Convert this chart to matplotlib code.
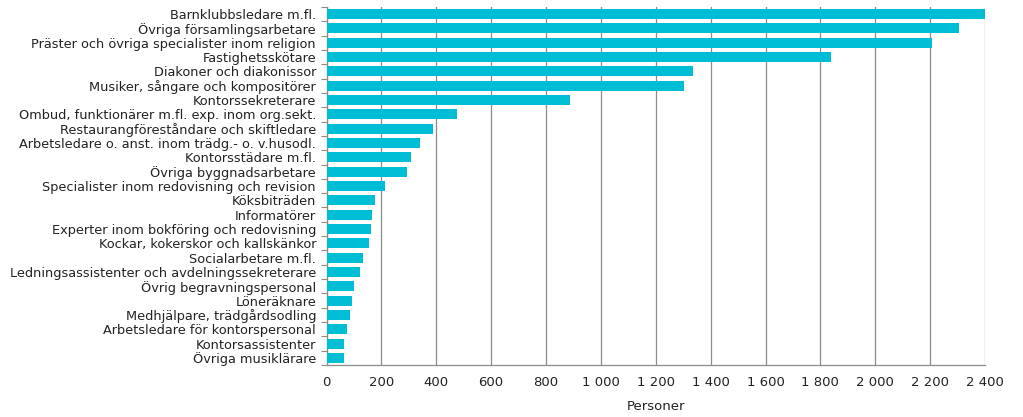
import numpy as np
import matplotlib.pyplot as plt
from matplotlib.ticker import FuncFormatter, FixedLocator

categories = [
    'Barnklubbsledare m.fl.',
    'Övriga församlingsarbetare',
    'Präster och övriga specialister inom religion',
    'Fastighetsskötare',
    'Diakoner och diakonissor',
    'Musiker, sångare och kompositörer',
    'Kontorssekreterare',
    'Ombud, funktionärer m.fl. exp. inom org.sekt.',
    'Restaurangföreståndare och skiftledare',
    'Arbetsledare o. anst. inom trädg.- o. v.husodl.',
    'Kontorsstädare m.fl.',
    'Övriga byggnadsarbetare',
    'Specialister inom redovisning och revision',
    'Köksbiträden',
    'Informatörer',
    'Experter inom bokföring och redovisning',
    'Kockar, kokerskor och kallskänkor',
    'Socialarbetare m.fl.',
    'Ledningsassistenter och avdelningssekreterare',
    'Övrig begravningspersonal',
    'Löneräknare',
    'Medhjälpare, trädgårdsodling',
    'Arbetsledare för kontorspersonal',
    'Kontorsassistenter',
    'Övriga musiklärare',
]
personer = [2400, 2306, 2208, 1838, 1335, 1304, 887, 474, 387, 341,
            308, 293, 213, 175, 166, 163, 156, 133, 123, 99,
            92, 85, 75, 65, 65]
x_ticks = list(range(0, 2401, 200))

bar_color = '#00BDD6'
grey = '#8c8c8c'

fig = plt.figure(figsize=(10.23, 4.17), dpi=100)
ax = fig.add_axes([326.5 / 1023, 1 - 365 / 417, (985 - 326.5) / 1023, (365 - 7) / 417])

y = np.arange(len(categories))
ax.barh(y, personer, height=0.7, color=bar_color, zorder=3)

ax.set_ylim(len(categories) - 0.5, -0.5)
ax.set_xlim(0, 2400)
ax.set_yticks(y)
ax.set_yticklabels(categories)
ax.yaxis.set_minor_locator(FixedLocator(np.arange(-0.5, len(categories), 1)))
ax.tick_params(axis='y', which='major', length=0, pad=7.5, labelsize=9.3, labelcolor='#222222')
ax.tick_params(axis='y', which='minor', length=4, color=grey, width=0.8)

ax.set_xticks(x_ticks)
ax.xaxis.set_major_formatter(FuncFormatter(lambda v, p: f'{int(v):,}'.replace(',', ' ')))
ax.tick_params(axis='x', length=0, pad=8, labelsize=9.5, labelcolor='#222222')
ax.grid(axis='x', color=grey, linewidth=0.9, zorder=0)

for s in ['top', 'right']:
    ax.spines[s].set_visible(False)
for s in ['left', 'bottom']:
    ax.spines[s].set_color(grey)
    ax.spines[s].set_linewidth(0.9)

ax.set_xlabel('Personer', fontsize=9.5, color='#222222', labelpad=8)

fig.savefig('out.png', dpi=100)
